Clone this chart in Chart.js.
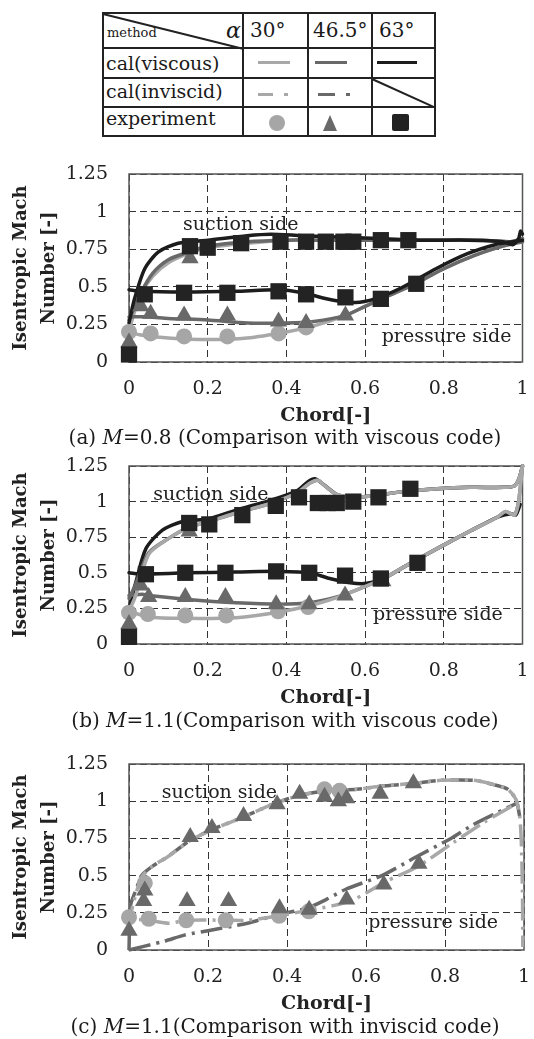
<!DOCTYPE html>
<html><head><meta charset="utf-8">
<script src="https://cdn.jsdelivr.net/npm/chart.js@4.4.1/dist/chart.umd.min.js"></script>
<style>
html,body{margin:0;padding:0;background:#fff;overflow:hidden;}
body{width:534px;height:1039px;position:relative;font-family:"DejaVu Serif",serif;color:#1a1a1a;}
.a{position:absolute;white-space:nowrap;}
canvas{position:absolute;left:0;}
.hl{position:absolute;left:102px;width:334px;height:2px;background:#222;}
.vl{position:absolute;top:12px;height:125px;width:2px;background:#222;}
.cap{position:absolute;left:0;width:570px;text-align:center;font-size:20px;line-height:24px;}
</style></head><body>

<!-- legend table -->
<div class="a" style="left:102px;top:12px;width:334px;height:125px;border:2px solid #222;box-sizing:border-box"></div>
<div class="hl" style="top:47px"></div>
<div class="hl" style="top:77px"></div>
<div class="hl" style="top:106px"></div>
<div class="vl" style="left:242px"></div>
<div class="vl" style="left:307px"></div>
<div class="vl" style="left:371px"></div>
<div class="a" style="left:103px;top:13px;width:144px;height:2px;background:#222;transform-origin:0 50%;transform:rotate(14deg)"></div>
<div class="a" style="left:372px;top:78px;width:70px;height:2px;background:#222;transform-origin:0 50%;transform:rotate(24.4deg)"></div>
<div class="a" style="left:107px;top:25px;font-size:13px;line-height:16px">method</div>
<div class="a" style="left:226px;top:18px;font-size:22px;line-height:26px;font-style:italic">α</div>
<div class="a" style="left:250px;top:18px;font-size:20px;line-height:24px">30°</div>
<div class="a" style="left:313px;top:18px;font-size:20px;line-height:24px">46.5°</div>
<div class="a" style="left:379px;top:18px;font-size:20px;line-height:24px">63°</div>
<div class="a" style="left:106px;top:51px;font-size:19px;line-height:24px">cal(viscous)</div>
<div class="a" style="left:106px;top:79px;font-size:19px;line-height:24px">cal(inviscid)</div>
<div class="a" style="left:106px;top:106px;font-size:19px;line-height:24px">experiment</div>
<div class="a" style="left:258px;top:61px;width:32px;height:3px;background:#a8a8a8"></div>
<div class="a" style="left:315px;top:61px;width:32px;height:3px;background:#696969"></div>
<div class="a" style="left:377px;top:61px;width:40px;height:3px;background:#1c1c1c"></div>
<div class="a" style="left:258px;top:93px;width:15px;height:3px;background:#a8a8a8"></div>
<div class="a" style="left:284px;top:93px;width:4px;height:3px;background:#a8a8a8"></div>
<div class="a" style="left:318px;top:93px;width:17px;height:3px;background:#696969"></div>
<div class="a" style="left:346px;top:93px;width:4px;height:3px;background:#696969"></div>
<div class="a" style="left:269px;top:115px;width:16px;height:16px;border-radius:50%;background:#a6a6a6"></div>
<div class="a" style="left:323px;top:115px;width:0;height:0;border-left:7px solid transparent;border-right:7px solid transparent;border-bottom:16px solid #696969"></div>
<div class="a" style="left:392px;top:114px;width:17px;height:17px;border-radius:2px;background:#222"></div>

<canvas id="cA" width="534" height="290" style="top:140px"></canvas>
<canvas id="cB" width="534" height="282" style="top:430px"></canvas>
<canvas id="cC" width="534" height="288" style="top:730px"></canvas>

<div class="cap" style="top:425px">(a) <i>M</i>=0.8 (Comparison with viscous code)</div>
<div class="cap" style="top:708px">(b) <i>M</i>=1.1(Comparison with viscous code)</div>
<div class="cap" style="top:1014px">(c) <i>M</i>=1.1(Comparison with inviscid code)</div>

<script>
// ---------- axes ----------
const xTickValues = [0, 0.2, 0.4, 0.6, 0.8, 1];
const xTickLabels = ['0', '0.2', '0.4', '0.6', '0.8', '1'];
const yTickValues = [0, 0.25, 0.5, 0.75, 1, 1.25];
const yTickLabels = ['0', '0.25', '0.5', '0.75', '1', '1.25'];

// ---------- (a) M=0.8, viscous code ----------
const a_vis30_suction = [[0,0.2],[0.01,0.3],[0.03,0.45],[0.06,0.57],[0.1,0.66],[0.15,0.72],[0.2,0.76],[0.3,0.79],[0.4,0.81],[0.5,0.81],[0.6,0.81],[0.7,0.81],[0.8,0.81],[0.9,0.81],[0.97,0.8],[1.0,0.82]];
const a_vis30_pressure = [[0,0.2],[0.03,0.18],[0.1,0.16],[0.2,0.15],[0.3,0.16],[0.4,0.2],[0.47,0.24],[0.55,0.31],[0.6,0.37],[0.65,0.43],[0.72,0.51],[0.8,0.62],[0.88,0.71],[0.95,0.77],[1.0,0.8]];
const a_vis46_suction = [[0,0.28],[0.01,0.34],[0.03,0.46],[0.06,0.59],[0.1,0.68],[0.15,0.73],[0.2,0.77],[0.3,0.8],[0.4,0.81],[0.5,0.81],[0.7,0.81],[0.9,0.81],[0.97,0.8],[1.0,0.82]];
const a_vis46_pressure = [[0,0.3],[0.05,0.3],[0.1,0.29],[0.2,0.28],[0.3,0.26],[0.4,0.26],[0.47,0.27],[0.55,0.31],[0.6,0.37],[0.65,0.43],[0.72,0.51],[0.8,0.62],[0.88,0.71],[0.95,0.77],[1.0,0.8]];
const a_vis63_suction = [[0,0.26],[0.014,0.42],[0.04,0.62],[0.074,0.73],[0.125,0.79],[0.2,0.81],[0.3,0.84],[0.36,0.85],[0.44,0.84],[0.55,0.83],[0.65,0.82],[0.75,0.81],[0.86,0.81],[0.95,0.8],[0.975,0.78],[0.99,0.82],[0.995,0.87],[1.0,0.85]];
const a_vis63_pressure = [[0,0.48],[0.03,0.47],[0.14,0.465],[0.27,0.47],[0.38,0.48],[0.44,0.46],[0.52,0.41],[0.575,0.395],[0.625,0.42],[0.69,0.49],[0.78,0.62],[0.86,0.72],[0.93,0.78],[0.975,0.8],[1.0,0.81]];
const a_exp30 = [[0,0.2],[0.055,0.19],[0.14,0.17],[0.25,0.17],[0.38,0.19],[0.45,0.23]];
const a_exp46 = [[0,0.13],[0.03,0.37],[0.055,0.32],[0.14,0.31],[0.25,0.31],[0.38,0.27],[0.45,0.26],[0.55,0.31],[0.64,0.4],[0.155,0.69]];
const a_exp63 = [[0,0.05],[0.04,0.45],[0.14,0.46],[0.25,0.46],[0.38,0.47],[0.45,0.45],[0.55,0.43],[0.64,0.42],[0.73,0.52],[0.155,0.77],[0.2,0.76],[0.285,0.79],[0.385,0.8],[0.45,0.8],[0.5,0.8],[0.545,0.8],[0.57,0.8],[0.64,0.81],[0.71,0.81]];

// ---------- (b) M=1.1, viscous code ----------
const b_vis30_suction = [[0,0.23],[0.017,0.34],[0.05,0.63],[0.1,0.74],[0.153,0.82],[0.204,0.86],[0.272,0.92],[0.357,0.985],[0.426,1.06],[0.46,1.13],[0.48,1.15],[0.498,1.11],[0.528,1.05],[0.57,1.03],[0.613,1.04],[0.698,1.07],[0.783,1.09],[0.868,1.1],[0.953,1.1],[0.979,1.11],[0.991,1.16],[1.0,1.25]];
const b_vis46_suction = [[0,0.32],[0.017,0.42],[0.05,0.64],[0.1,0.74],[0.153,0.82],[0.204,0.86],[0.272,0.92],[0.357,0.985],[0.426,1.06],[0.46,1.13],[0.48,1.15],[0.498,1.11],[0.528,1.05],[0.57,1.03],[0.613,1.04],[0.698,1.07],[0.783,1.09],[0.868,1.1],[0.953,1.1],[0.979,1.11],[0.991,1.16],[1.0,1.25]];
const b_vis30_pressure = [[0,0.23],[0.05,0.19],[0.143,0.18],[0.272,0.185],[0.383,0.225],[0.46,0.27],[0.528,0.326],[0.579,0.38],[0.647,0.46],[0.698,0.54],[0.783,0.67],[0.868,0.795],[0.936,0.89],[0.956,0.93],[0.97,0.915],[0.98,0.905],[0.99,1.0],[1.0,1.25]];
const b_vis46_pressure = [[0,0.34],[0.034,0.35],[0.05,0.34],[0.143,0.315],[0.272,0.29],[0.383,0.28],[0.46,0.29],[0.528,0.33],[0.579,0.38],[0.647,0.46],[0.698,0.54],[0.783,0.67],[0.868,0.795],[0.936,0.89],[0.956,0.93],[0.97,0.915],[0.98,0.905],[0.99,1.0],[1.0,1.25]];
const b_vis63_suction = [[0,0.25],[0.017,0.43],[0.043,0.67],[0.085,0.8],[0.136,0.86],[0.204,0.88],[0.272,0.94],[0.357,1.007],[0.426,1.074],[0.455,1.14],[0.472,1.16],[0.49,1.13],[0.528,1.05],[0.57,1.03],[0.613,1.04],[0.698,1.07],[0.783,1.09],[0.868,1.1],[0.953,1.1],[0.979,1.11],[0.991,1.16],[1.0,1.25]];
const b_vis63_pressure = [[0,0.5],[0.034,0.49],[0.143,0.5],[0.272,0.505],[0.383,0.51],[0.46,0.5],[0.51,0.46],[0.562,0.43],[0.604,0.426],[0.647,0.46],[0.698,0.54],[0.783,0.67],[0.868,0.795],[0.936,0.89],[0.97,0.915],[0.983,0.906],[0.994,0.98]];
const b_exp30 = [[0,0.22],[0.048,0.21],[0.143,0.2],[0.247,0.2],[0.379,0.23],[0.455,0.26]];
const b_exp46 = [[0,0.14],[0.03,0.41],[0.05,0.33],[0.143,0.33],[0.245,0.33],[0.374,0.28],[0.458,0.28],[0.549,0.34],[0.645,0.44],[0.153,0.79]];
const b_exp63 = [[0,0.05],[0.043,0.49],[0.143,0.5],[0.245,0.5],[0.374,0.51],[0.458,0.5],[0.549,0.48],[0.64,0.46],[0.733,0.57],[0.153,0.85],[0.204,0.84],[0.288,0.905],[0.373,0.97],[0.432,1.03],[0.48,0.99],[0.505,0.99],[0.528,0.99],[0.57,1.0],[0.634,1.03],[0.715,1.09]];

// ---------- (c) M=1.1, inviscid code ----------
const c_inv30_suction = [[0.007,0.27],[0.02,0.4],[0.032,0.49],[0.058,0.56],[0.1,0.63],[0.151,0.73],[0.211,0.81],[0.287,0.89],[0.364,0.98],[0.432,1.04],[0.5,1.07],[0.577,1.08],[0.636,1.1],[0.721,1.12],[0.789,1.14],[0.874,1.14],[0.925,1.11],[0.959,1.08],[0.98,1.01],[0.989,0.9],[0.993,0.74],[0.996,0.4],[0.997,0.02]];
const c_inv46_suction = [[0,0.0],[0.004,0.3],[0.02,0.42],[0.032,0.5],[0.058,0.56],[0.1,0.63],[0.151,0.73],[0.211,0.81],[0.287,0.89],[0.364,0.98],[0.432,1.04],[0.5,1.07],[0.577,1.08],[0.636,1.1],[0.721,1.12],[0.789,1.14],[0.874,1.14],[0.925,1.11],[0.959,1.08],[0.98,1.01],[0.989,0.9]];
const c_inv30_pressure = [[0,0.21],[0.05,0.2],[0.1,0.18],[0.15,0.2],[0.25,0.2],[0.3,0.2],[0.38,0.23],[0.46,0.27],[0.52,0.3],[0.57,0.34],[0.65,0.46],[0.73,0.56],[0.82,0.72],[0.9,0.86],[0.985,0.99]];
const c_inv46_pressure = [[0,0.0],[0.09,0.06],[0.14,0.1],[0.2,0.13],[0.3,0.18],[0.38,0.24],[0.45,0.28],[0.5,0.34],[0.55,0.41],[0.64,0.5],[0.73,0.63],[0.815,0.75],[0.87,0.84],[0.93,0.92],[0.985,0.99]];
const c_exp30 = [[0,0.22],[0.05,0.21],[0.145,0.2],[0.245,0.2],[0.38,0.23],[0.455,0.26],[0.04,0.45],[0.495,1.08],[0.533,1.07]];
const c_exp46 = [[0,0.13],[0.04,0.4],[0.037,0.33],[0.147,0.33],[0.252,0.33],[0.381,0.28],[0.456,0.27],[0.551,0.34],[0.645,0.44],[0.734,0.58],[0.155,0.76],[0.21,0.82],[0.29,0.9],[0.375,0.98],[0.432,1.05],[0.495,1.03],[0.53,1.0],[0.551,1.02],[0.636,1.05],[0.72,1.12]];

// ---------- styling ----------
const FONT = '"DejaVu Serif", serif';
const C30 = '#a8a8a8', C46 = '#696969', C63 = '#1c1c1c';
const M30 = '#a6a6a6', M46 = '#696969', M63 = '#232323';
const DASHDOT = [22, 6, 3, 6];

const pts = d => d.map(p => ({x: p[0], y: p[1]}));
function line(d, color, order, dash, offset) {
  return {data: pts(d), showLine: true, borderColor: color, borderWidth: 3.5, pointRadius: 0,
    tension: 0.25, fill: false, order, borderDash: dash || [], borderDashOffset: offset || 0,
    borderCapStyle: dash ? 'butt' : 'round', borderJoinStyle: 'round', clip: 4};
}
function marks(d, style, color, r, order) {
  return {data: pts(d), showLine: false, pointStyle: style, pointRadius: r, backgroundColor: color,
    borderColor: color, borderWidth: 0, order, clip: false};
}

const boxPlugin = {id: 'box', beforeDatasetsDraw(chart) {
  const {ctx, chartArea: a} = chart;
  ctx.save(); ctx.strokeStyle = '#555'; ctx.lineWidth = 1.5;
  ctx.strokeRect(a.left, a.top, a.right - a.left, a.bottom - a.top); ctx.restore();
}};
const notePlugin = {id: 'notes', afterDatasetsDraw(chart, args, opts) {
  const {ctx} = chart, xs = chart.scales.x, ys = chart.scales.y;
  ctx.save(); ctx.font = '19px ' + FONT; ctx.fillStyle = '#222';
  ctx.textAlign = 'center'; ctx.textBaseline = 'middle';
  (opts.items || []).forEach(it => ctx.fillText(it.text, xs.getPixelForValue(it.x), ys.getPixelForValue(it.y)));
  ctx.restore();
}};

function makeChart(id, datasets, notes, padTop) {
  new Chart(document.getElementById(id), {
    type: 'scatter',
    data: {datasets},
    options: {
      responsive: false, animation: false, devicePixelRatio: 1, events: [],
      layout: {padding: {top: padTop, right: 2, left: 0, bottom: 0}},
      plugins: {legend: {display: false}, tooltip: {enabled: false}, notes: {items: notes}},
      scales: {
        x: {type: 'linear', min: 0, max: 1,
          afterBuildTicks: s => { s.ticks = xTickValues.map(v => ({value: v})); },
          afterFit: s => { s.height = 68; s.paddingLeft = 0; s.paddingRight = 0; },
          ticks: {callback: (v, i) => xTickLabels[i], font: {family: FONT, size: 19}, color: '#222', padding: 16, maxRotation: 0, autoSkip: false},
          grid: {color: '#333', lineWidth: 1, drawTicks: false},
          border: {display: false, dash: [7, 4]},
          title: {display: true, text: 'Chord[-]', font: {family: FONT, size: 19, weight: 'bold'}, color: '#222', padding: {top: 0, bottom: 3}}},
        y: {type: 'linear', min: 0, max: 1.25,
          afterBuildTicks: s => { s.ticks = yTickValues.map(v => ({value: v})); },
          afterFit: s => { s.width = 129; s.paddingTop = 0; s.paddingBottom = 0; },
          ticks: {callback: (v, i) => yTickLabels[i], font: {family: FONT, size: 19}, color: '#222', padding: 21, autoSkip: false},
          grid: {color: '#333', lineWidth: 1, drawTicks: false},
          border: {display: false, dash: [7, 4]},
          title: {display: true, text: ['Isentropic Mach', 'Number [-]'], font: {family: FONT, size: 18, weight: 'bold', lineHeight: 1.55}, color: '#222', padding: {top: 7, bottom: 0}}}
      }
    },
    plugins: [boxPlugin, notePlugin]
  });
}

makeChart('cA', [
  marks(a_exp63, 'rect', M63, 11.5, 1),
  marks(a_exp46, 'triangle', M46, 10, 2),
  marks(a_exp30, 'circle', M30, 8, 3),
  line(a_vis63_suction, C63, 4), line(a_vis63_pressure, C63, 4),
  line(a_vis46_suction, C46, 5), line(a_vis46_pressure, C46, 5),
  line(a_vis30_suction, C30, 6), line(a_vis30_pressure, C30, 6)
], [{text: 'suction side', x: 0.284, y: 0.91}, {text: 'pressure side', x: 0.807, y: 0.165}], 34);

makeChart('cB', [
  marks(b_exp63, 'rect', M63, 11.5, 1),
  marks(b_exp46, 'triangle', M46, 10, 2),
  marks(b_exp30, 'circle', M30, 8, 3),
  line(b_vis30_suction, C30, 4), line(b_vis30_pressure, C30, 4),
  line(b_vis46_suction, C46, 5), line(b_vis46_pressure, C46, 5),
  line(b_vis63_suction, C63, 6), line(b_vis63_pressure, C63, 6)
], [{text: 'suction side', x: 0.208, y: 1.046}, {text: 'pressure side', x: 0.785, y: 0.2}], 36);

makeChart('cC', [
  marks(c_exp46, 'triangle', M46, 10, 1),
  marks(c_exp30, 'circle', M30, 8, 2),
  line(c_inv30_suction, C30, 3, DASHDOT, 18), line(c_inv30_pressure, C30, 3, DASHDOT, 18),
  line(c_inv46_suction, C46, 4, DASHDOT, 0), line(c_inv46_pressure, C46, 4, DASHDOT, 0)
], [{text: 'suction side', x: 0.229, y: 1.058}, {text: 'pressure side', x: 0.77, y: 0.18}], 34);
</script>
</body></html>
